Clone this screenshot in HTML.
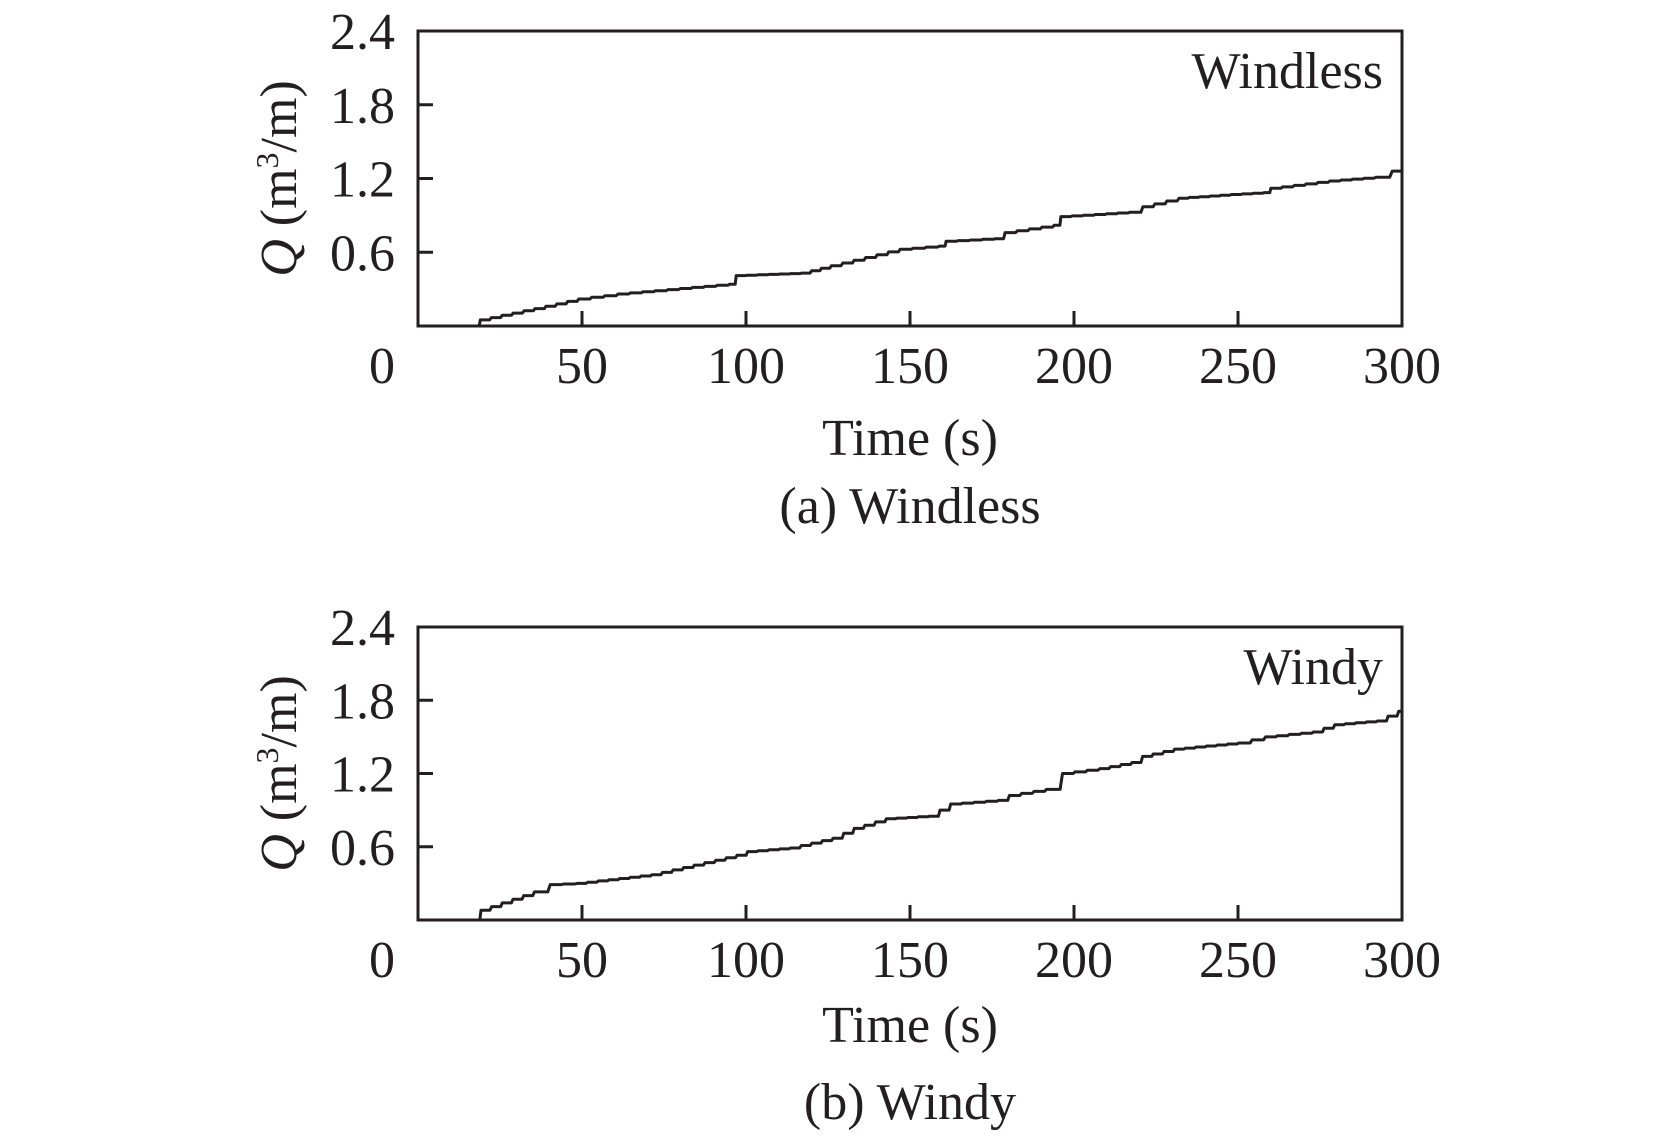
<!DOCTYPE html>
<html><head><meta charset="utf-8"><style>
html,body{margin:0;padding:0;background:#fff}
svg{display:block}
text{font-family:"Liberation Serif",serif;fill:#231f20}
</style></head><body>
<svg id="s" width="1673" height="1143" viewBox="0 0 1673 1143" xmlns="http://www.w3.org/2000/svg">
<g id="p1"></g><g id="p2"></g>
</svg>
<script>
const NS="http://www.w3.org/2000/svg";
function el(g,tag,attrs,txt){const e=document.createElementNS(NS,tag);for(const k in attrs)e.setAttribute(k,attrs[k]);if(txt!==undefined)e.innerHTML=txt;g.appendChild(e);return e;}
function panel(gid,top,bottom,data,label,labelY,timeY,capY,cap){
  const g=document.getElementById(gid);
  const L=418,R=1402;
  const sx=t=>L+t*(R-L)/300, sy=v=>bottom-v*(bottom-top)/2.4;
  let d="M"+L+","+bottom+" L"+sx(data[0][0])+","+bottom;
  for(let i=1;i<data.length;i++){
    const [t0,v0]=data[i-1],[t1,v1]=data[i];
    const n=Math.max(1,Math.round((t1-t0)/3.5));
    for(let k=1;k<=n;k++){
      const t=t0+(t1-t0)*k/n, v=v0+(v1-v0)*k/n, vp=v0+(v1-v0)*(k-1)/n;
      d+=" L"+sx(t-(t1-t0)/n*0.15).toFixed(1)+","+sy(vp).toFixed(1)+" L"+sx(t).toFixed(1)+","+sy(v).toFixed(1);
    }
  }
  d+=" L"+R+","+sy(data[data.length-1][1]).toFixed(1);
  el(g,"path",{d:d,fill:"none",stroke:"#231f20","stroke-width":3,"stroke-linejoin":"round"});
  el(g,"rect",{x:L,y:top,width:R-L,height:bottom-top,fill:"none",stroke:"#231f20","stroke-width":3});
  for(let i=1;i<=3;i++){const y=sy(i*0.6);el(g,"line",{x1:L,x2:L+15,y1:y,y2:y,stroke:"#231f20","stroke-width":3});}
  for(let i=1;i<=5;i++){const x=sx(i*50);el(g,"line",{x1:x,x2:x,y1:bottom,y2:bottom-15,stroke:"#231f20","stroke-width":3});}
  const yl=["2.4","1.8","1.2","0.6"];
  for(let i=0;i<4;i++){el(g,"text",{x:395,y:sy(2.4-i*0.6)+18,"font-size":52,"text-anchor":"end"},yl[i]);}
  el(g,"text",{x:395,y:bottom+57,"font-size":52,"text-anchor":"end"},"0");
  for(let i=1;i<=6;i++){el(g,"text",{x:sx(i*50),y:bottom+57,"font-size":52,"text-anchor":"middle"},String(i*50));}
  const cy=(top+bottom)/2;
  el(g,"text",{x:0,y:0,"font-size":52,"text-anchor":"middle",transform:"translate(296,"+cy+") rotate(-90)"},
    '<tspan font-style="italic">Q</tspan> (m<tspan font-size="32" dy="-18">3</tspan><tspan dy="18">/m)</tspan>');
  el(g,"text",{x:1383,y:labelY,"font-size":52,"text-anchor":"end"},label);
  el(g,"text",{x:910,y:timeY,"font-size":52,"text-anchor":"middle"},"Time (s)");
  el(g,"text",{x:910,y:capY,"font-size":52,"text-anchor":"middle"},cap);
}
const d1=[[16.8,0],[19,0.05],[39,0.16],[49,0.22],[61,0.26],[80,0.305],[95,0.34],[97,0.41],[117,0.43],[126,0.49],[140,0.58],[147,0.625],[159,0.65],[161,0.69],[176,0.71],[179,0.76],[194,0.82],[196,0.89],[217,0.925],[221,0.97],[232,1.04],[248,1.07],[258,1.085],[260,1.12],[278,1.18],[292,1.21],[297,1.26],[300,1.26]];
const d2=[[16.9,0],[19.2,0.08],[25.7,0.14],[35.5,0.23],[40.3,0.29],[48.5,0.3],[61.5,0.34],[71.3,0.37],[81,0.43],[97.3,0.53],[100.5,0.56],[113.6,0.59],[126.6,0.67],[133,0.75],[142.8,0.83],[155.9,0.85],[162.4,0.95],[177,0.98],[180.3,1.02],[191.6,1.07],[196.5,1.2],[207.9,1.24],[217.7,1.29],[220.9,1.34],[230.7,1.4],[250.2,1.45],[258.4,1.5],[273,1.54],[279.5,1.6],[292.5,1.63],[299,1.71],[300,1.71]];
panel("p1",31,326,d1,"Windless",88,455,523,"(a) Windless");
panel("p2",627,920,d2,"Windy",684,1042,1119,"(b) Windy");
</script>
</body></html>
